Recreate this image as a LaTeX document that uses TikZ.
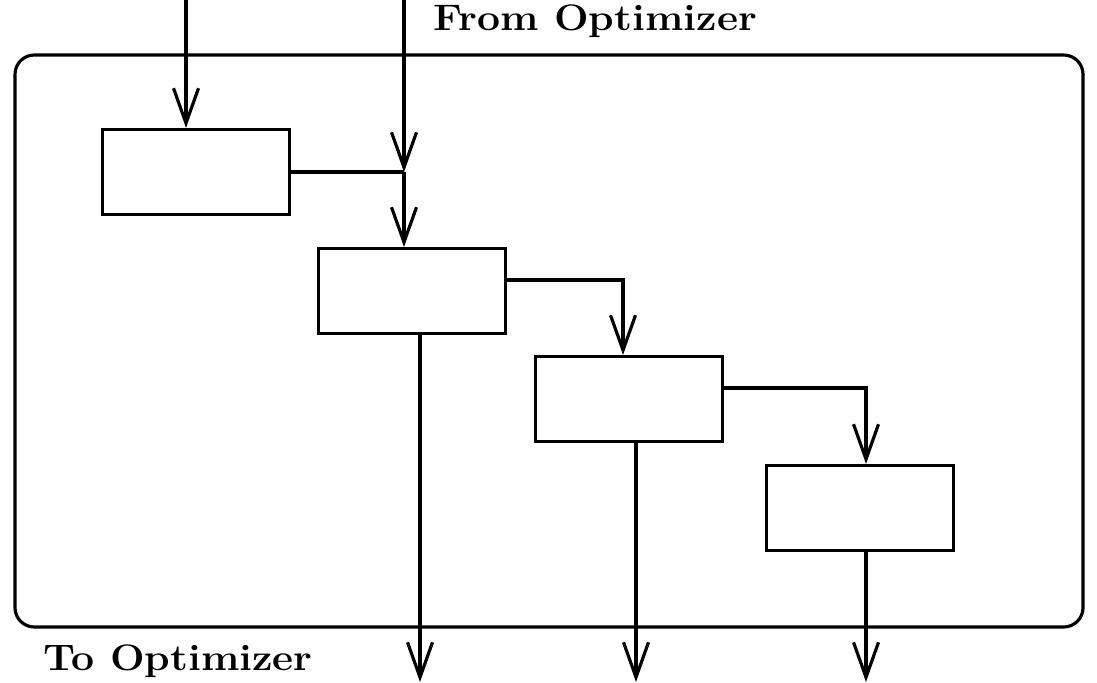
\documentclass[tikz,border=0pt]{standalone}
\usepackage{fontspec}
\usepackage{graphicx}
\usetikzlibrary{arrows.meta}
\newcommand{\widetext}[1]{\scalebox{1.11}[1]{#1}}
\begin{document}
\begin{tikzpicture}[x=0.02cm, y=-0.02cm, line width=1.8pt,
  box/.style={draw, rectangle, minimum width=3.74cm, minimum height=1.7cm, inner sep=0pt},
  flow/.style={-{Straight Barb[length=7mm,width=5mm]}},
  tag/.style={font=\fontsize{21}{24}\selectfont\bfseries, inner sep=0pt}]
\useasboundingbox (0,0) rectangle (1097,682);
% outer frame
\draw[rounded corners=11pt] (15,55) rectangle (1083,627);
% the four stages
\node[box] (box1) at (196,172) {};
\node[box] (box2) at (412,291) {};
\node[box] (box3) at (629,399) {};
\node[box] (box4) at (860,508) {};
% inputs and outputs
\coordinate (inA) at (186,0);
\coordinate (inB) at (404,0);
\coordinate (jn) at (404,172);
\coordinate (b23) at (623,280);
\coordinate (b34) at (866,388);
\coordinate (out2) at (420,682);
\coordinate (out3) at (636,682);
\coordinate (out4) at (866,682);
\node[tag, anchor=base west] (from) at (432,31) {\widetext{From Optimizer}};
\node[tag, anchor=base west] (to) at (42,670) {\widetext{To Optimizer}};
\draw[flow] (inA) -- (inA |- box1.north);
\draw[flow] (inB) -- (jn);
\draw (box1.east |- jn) -- (jn);
\draw[flow] (jn) -- (jn |- box2.north);
\draw[flow] (b23 -| box2.east) -- (b23) -- (b23 |- box3.north);
\draw[flow] (b34 -| box3.east) -- (b34) -- (b34 |- box4.north);
\draw[flow] (out2 |- box2.south) -- (out2);
\draw[flow] (out3 |- box3.south) -- (out3);
\draw[flow] (out4 |- box4.south) -- (out4);
\end{tikzpicture}
\end{document}
